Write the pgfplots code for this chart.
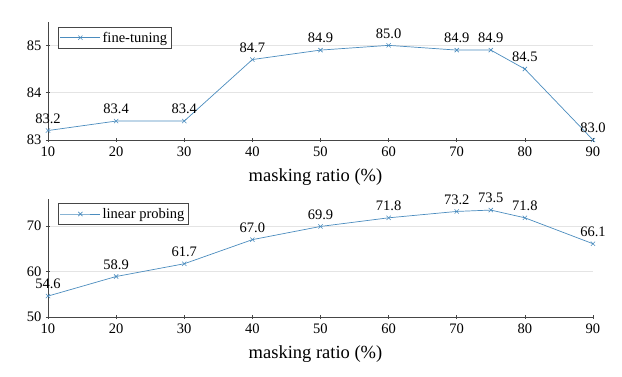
\documentclass[border=0pt]{standalone}
\usepackage{pgfplots}
\pgfplotsset{compat=1.18}
\usepackage{fontspec}
\setmainfont{Liberation Serif}
\definecolor{linec}{RGB}{75,140,190}
\definecolor{axc}{RGB}{70,70,70}
\definecolor{gridc}{RGB}{228,228,228}
\pgfplotsset{
  myaxis/.style={
    scale only axis,
    width=545pt, height=118.3pt,
    xmin=10, xmax=90,
    xtick={10,20,30,40,50,60,70,80,90},
    axis lines=left,
    axis line style={-, color=axc, line width=0.7pt},
    tick style={color=axc, line width=0.6pt},
    major tick length=4pt,
    ymajorgrids,
    major grid style={color=gridc, line width=0.6pt},
    /pgf/number format/assume math mode=true,
    ticklabel style={font=\fontsize{14.5}{16}\selectfont, text=black},
    yticklabel style={xshift=-1pt},
    xticklabel style={yshift=-1pt},
    xlabel={masking ratio (\%)},
    xlabel style={font=\fontsize{18.5}{20}\selectfont, at={(axis description cs:0.5,0)}, anchor=base, yshift=-42pt, xshift=-5pt},
    legend style={draw=axc, line width=0.6pt, font=\fontsize{14.5}{16}\selectfont, anchor=north west, inner xsep=2pt, inner ysep=2.5pt, row sep=0pt},
    legend cell align=left,
    legend image code/.code={\draw[mark repeat=2,mark phase=2] plot coordinates {(0cm,0cm) (0.7cm,0cm) (1.4cm,0cm)};},
    nodes near coords,
    nodes near coords style={font=\fontsize{14.5}{16}\selectfont, text=black, yshift=3.5pt, /pgf/number format/fixed, /pgf/number format/fixed zerofill, /pgf/number format/precision=1, /pgf/number format/assume math mode=true},
    clip=false,
  },
  myplot/.style={color=linec, line width=0.7pt, mark=x, mark size=3pt, mark options={line width=0.6pt}},
}
\begin{document}
\begin{tikzpicture}
\useasboundingbox (0,0) rectangle (622pt,377pt);
\begin{axis}[myaxis, at={(48pt,237pt)}, anchor=south west,
  ymin=83, ymax=85.5, ytick={83,84,85},
  legend style={at={(axis description cs:0.018,0.955)}}]
\addplot[myplot] coordinates {
(10,83.2) (20,83.4) (30,83.4) (40,84.7) (50,84.9) (60,85.0) (70,84.9) (75,84.9) (80,84.5) (90,83.0)};
\addlegendentry{fine-tuning}
\end{axis}
\begin{axis}[myaxis, at={(48pt,60pt)}, anchor=south west,
  ymin=50, ymax=76, ytick={50,60,70},
  legend style={at={(axis description cs:0.018,0.96)}}]
\addplot[myplot] coordinates {
(10,54.6) (20,58.9) (30,61.7) (40,67.0) (50,69.9) (60,71.8) (70,73.2) (75,73.5) (80,71.8) (90,66.1)};
\addlegendentry{linear probing}
\end{axis}
\end{tikzpicture}
\end{document}
